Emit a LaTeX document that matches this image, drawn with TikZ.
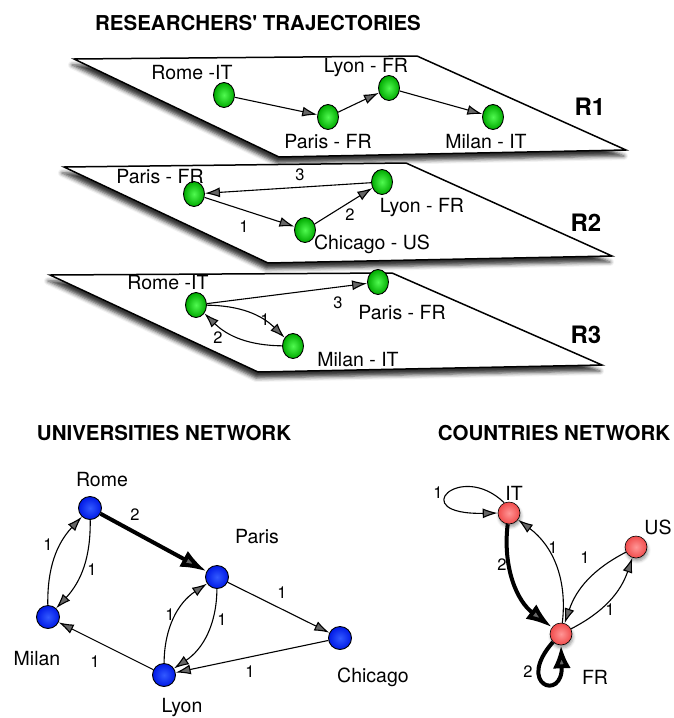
\documentclass[tikz,border=0pt]{standalone}
\usepackage{fontspec}
\setmainfont{TeX Gyre Heros}
\usetikzlibrary{arrows.meta,shadows.blur,shapes.geometric}
\definecolor{gin}{RGB}{80,250,80}
\definecolor{gout}{RGB}{0,170,0}
\definecolor{bin}{RGB}{50,90,255}
\definecolor{bout}{RGB}{0,25,230}
\definecolor{rin}{RGB}{255,150,150}
\definecolor{rout}{RGB}{240,75,75}
\begin{document}
\begin{tikzpicture}[x=1pt,y=-1pt,
 plane/.style={draw=black,line width=1.5pt,fill=white,line join=miter,
   blur shadow={shadow xshift=-2pt,shadow yshift=-6pt,shadow blur radius=4pt,shadow opacity=80}},
 gnode/.style={ellipse,draw=black,line width=0.9pt,inner color=gin,outer color=gout,
   minimum width=21pt,minimum height=25pt,inner sep=0pt},
 bnode/.style={circle,draw=black,line width=0.9pt,inner color=bin,outer color=bout,
   minimum size=23pt,inner sep=0pt},
 rnode/.style={circle,draw=black,line width=0.6pt,inner color=rin,outer color=rout,
   minimum size=22pt,inner sep=0pt,
   blur shadow={shadow xshift=1pt,shadow yshift=-3pt,shadow blur radius=3pt}},
 lbl/.style={font=\fontsize{19.5}{22}\selectfont,inner sep=0pt},
 elbl/.style={font=\fontsize{16.5}{18}\selectfont,inner sep=0pt},
 ttl/.style={font=\fontsize{20.5}{24}\selectfont\bfseries,inner sep=0pt},
 rlbl/.style={font=\fontsize{24}{28}\selectfont\bfseries,inner sep=0pt},
 arr/.style={-{Latex[length=15pt,width=10pt]},line width=1.1pt},
 tarr/.style={-{Latex[length=26pt,width=18pt]},line width=4pt},
 loopthick/.style={-{Latex[length=23pt,width=18pt]},line width=4pt},
]
\useasboundingbox (0,0) rectangle (673,718);

% titles
\node[ttl] (t1) at (258,23) {RESEARCHERS\textquotesingle\ TRAJECTORIES};
\node[ttl] (t2) at (164,433) {UNIVERSITIES NETWORK};
\node[ttl] (t3) at (554,433) {COUNTRIES NETWORK};

% planes
\path[plane] (74,59) -- (417,56) -- (626,150) -- (279,157) -- cycle;
\path[plane] (64,167) -- (406,163) -- (612,256) -- (268,263) -- cycle;
\path[plane] (50,275) -- (392,273) -- (602,365) -- (258,372) -- cycle;

% R1
\node[gnode] (a1) at (224,95) {};
\node[gnode] (a2) at (328,117) {};
\node[gnode] (a3) at (389,88) {};
\node[gnode] (a4) at (493,117) {};
\node[lbl] (la1) at (192,73) {Rome -IT};
\node[lbl] (la2) at (328,142) {Paris - FR};
\node[lbl] (la3) at (366,68) {Lyon - FR};
\node[lbl] (la4) at (486,142) {Milan - IT};
\node[rlbl] (r1) at (590,107) {R1};
\draw[arr] (a1) -- (a2);
\draw[arr] (a2) -- (a3);
\draw[arr] (a3) -- (a4);

% R2
\node[gnode] (b1) at (194,194) {};
\node[gnode] (b2) at (382,182) {};
\node[gnode] (b3) at (305,230) {};
\node[lbl] (lb1) at (160,177) {Paris - FR};
\node[lbl] (lb2) at (422,208) {Lyon - FR};
\node[lbl] (lb3) at (372,244) {Chicago - US};
\node[rlbl] (r2) at (586,223) {R2};
\draw[arr] (b1) -- (b3);
\draw[arr] (b3) -- (b2);
\draw[arr] (b2) -- (b1);
\node[elbl] (eb1) at (244,227) {1};
\node[elbl] (eb2) at (350,215) {2};
\node[elbl] (eb3) at (300,175) {3};

% R3
\node[gnode] (c1) at (196,305) {};
\node[gnode] (c2) at (378,282) {};
\node[gnode] (c3) at (293,346) {};
\node[lbl] (lc1) at (168,283) {Rome -IT};
\node[lbl] (lc2) at (402,313) {Paris - FR};
\node[lbl] (lc3) at (358,360) {Milan - IT};
\node[rlbl] (r3) at (586,335) {R3};
\draw[arr] (c1) -- (c2);
\draw[arr] (c1) to[bend left=22] (c3);
\draw[arr] (c3) to[bend left=22] (c1);
\node[elbl] (ec1) at (265,320) {1};
\node[elbl] (ec2) at (218,338) {2};
\node[elbl] (ec3) at (338,303) {3};

% universities network
\node[bnode] (rome) at (90,508) {};
\node[bnode] (paris) at (217,577) {};
\node[bnode] (milan) at (48,617) {};
\node[bnode] (lyon) at (164,675) {};
\node[bnode] (chicago) at (340,638) {};
\node[lbl] (lrome) at (102,480) {Rome};
\node[lbl] (lparis) at (257,537) {Paris};
\node[lbl] (lmilan) at (37,659) {Milan};
\node[lbl] (llyon) at (182,708) {Lyon};
\node[lbl] (lchicago) at (373,677) {Chicago};
\draw[tarr] (rome) -- (paris);
\draw[arr] (milan) to[bend left=22] (rome);
\draw[arr] (rome) to[bend left=22] (milan);
\draw[arr] (paris) -- (chicago);
\draw[arr] (chicago) -- (lyon);
\draw[arr] (lyon) -- (milan);
\draw[arr] (lyon) to[bend left=28] (paris);
\draw[arr] (paris) to[bend left=28] (lyon);
\node[elbl] (u1) at (135,515) {2};
\node[elbl] (u2) at (48,545) {1};
\node[elbl] (u3) at (92,570) {1};
\node[elbl] (u4) at (282,593) {1};
\node[elbl] (u5) at (250,672) {1};
\node[elbl] (u6) at (95,662) {1};
\node[elbl] (u7) at (170,615) {1};
\node[elbl] (u8) at (222,620) {1};

% countries network
\node[rnode] (it) at (509,513) {};
\node[rnode] (us) at (636,547) {};
\node[rnode] (fr) at (561,634) {};
\node[lbl] (lit) at (514,493) {IT};
\node[lbl] (lus) at (658,527) {US};
\node[lbl] (lfr) at (595,677) {FR};
\draw[arr] (it.115) .. controls (460,460) and (405,515) .. (it.west);
\draw[tarr] (it) to[bend right=30] (fr);
\draw[arr] (fr) to[bend right=30] (it);
\draw[arr] (us) to[bend right=22] (fr);
\draw[arr] (fr) to[bend right=22] (us);
\draw[loopthick] (fr.225) .. controls (515,685) and (563,702) .. (fr.south);
\node[elbl] (k1) at (438,493) {1};
\node[elbl] (k2) at (502,565) {2};
\node[elbl] (k3) at (553,548) {1};
\node[elbl] (k4) at (585,558) {1};
\node[elbl] (k5) at (610,610) {1};
\node[elbl] (k6) at (528,672) {2};
\end{tikzpicture}
\end{document}
